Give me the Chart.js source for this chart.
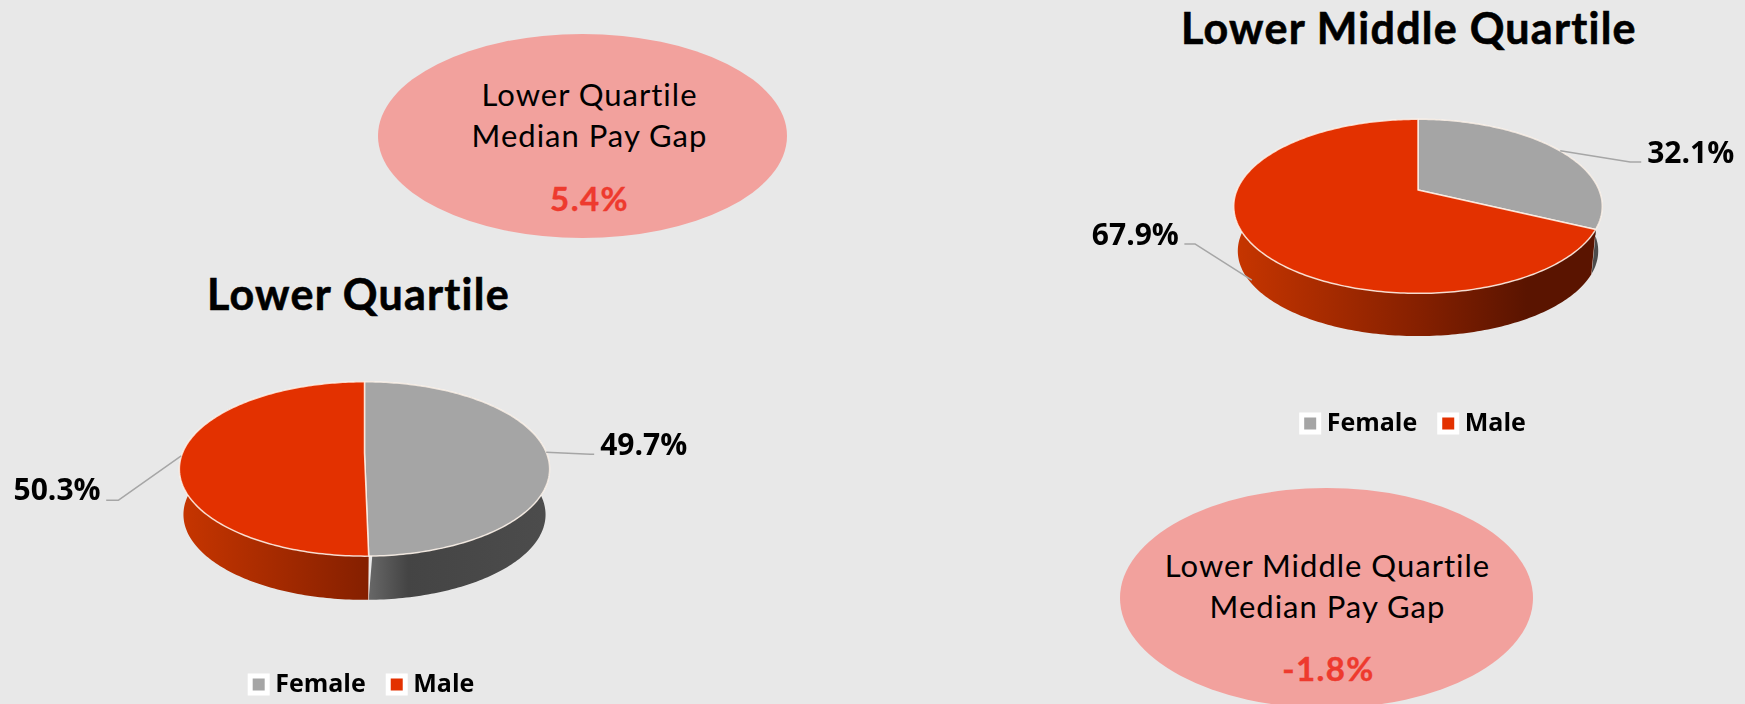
<!DOCTYPE html>
<html>
<head>
<meta charset="utf-8">
<script src="https://cdn.jsdelivr.net/npm/chart.js@4"></script>
<style>
  html, body { margin: 0; padding: 0; background: #e8e8e8; width: 1745px; height: 704px; overflow: hidden; position: relative; }
  canvas { position: absolute; }
  .title { position: absolute; font: 700 43px Lato, sans-serif; letter-spacing: 1.25px; font-variant-ligatures: none; -webkit-text-stroke: 0.6px #000; color: #000; white-space: nowrap; }
  .bubble { position: absolute; background: #f2a19d; border-radius: 50%; }
  .bubble div { position: absolute; left: 0; right: 0; text-align: center; font: 400 31px Lato, sans-serif; letter-spacing: 1px; font-variant-ligatures: none; color: #000; white-space: nowrap; }
  .bubble .gap { font-weight: 700; font-size: 33px; letter-spacing: 1.4px; -webkit-text-stroke: 0.4px #ee3a2e; color: #ee3a2e; }
</style>
</head>
<body>
<div class="title" style="left:207px;top:268px">Lower Quartile</div>
<div class="title" style="left:1181px;top:2px">Lower Middle Quartile</div>

<div class="bubble" style="left:378px;top:34px;width:409px;height:204px">
  <div style="top:41px;left:14px">Lower Quartile</div>
  <div style="top:82px;left:14px">Median Pay Gap</div>
  <div class="gap" style="top:144px;left:14px">5.4%</div>
</div>
<div class="bubble" style="left:1120px;top:488px;width:413px;height:220px">
  <div style="top:58px;left:2px">Lower Middle Quartile</div>
  <div style="top:99px;left:2px">Median Pay Gap</div>
  <div class="gap" style="top:160px;left:4px">-1.8%</div>
</div>

<canvas id="lowerChart" width="729" height="446" style="left:0;top:261px"></canvas>
<canvas id="middleChart" width="658" height="446" style="left:1087px;top:0"></canvas>

<script>
const categories = ["Female", "Male"];
const lowerQuartileValues = [49.7, 50.3];
const lowerMiddleValues = [32.1, 67.9];
const sliceColors = ["#a5a5a5", "#e33100"];
const sideStops = [
  [[0.5, "#6b6b6b"], [0.62, "#444444"], [1, "#4c4c4c"]],
  [[0, "#c63500"], [0.5, "#862000"], [0.8, "#5a1400"], [1, "#5a1400"]],
];

// perspective tilt: the disc comes from the library's arc, this only projects it
function project(arc, angle, tilt, low) {
  const u = Math.cos(angle);
  const v = Math.sin(angle);
  const w = 1 - tilt.q * v;
  const s = low ? tilt.lowScale : 1;
  return {
    x: arc.x + tilt.shiftX + (arc.outerRadius * u * s) / w,
    y: arc.y + tilt.shiftY + (arc.outerRadius * tilt.flat * v * s) / w + (low ? tilt.depth : 0),
  };
}

const tiltPie = {
  id: "tiltPie",
  beforeDatasetsDraw(chart, args, tilt) {
    const ctx = chart.ctx;
    const arcs = chart.getDatasetMeta(0).data;
    const values = chart.data.datasets[0].data;
    const step = Math.PI / 180;

    // side wall first, the top face covers the back part of it
    arcs.forEach((arc, i) => {
      const left = arc.x + tilt.shiftX - arc.outerRadius;
      const grad = ctx.createLinearGradient(left, 0, left + arc.outerRadius * 2, 0);
      sideStops[i].forEach((s) => grad.addColorStop(s[0], s[1]));
      ctx.beginPath();
      for (let a = arc.startAngle; a < arc.endAngle; a += step) {
        const p = project(arc, a, tilt, false);
        ctx.lineTo(p.x, p.y);
      }
      for (let a = arc.endAngle; a > arc.startAngle; a -= step) {
        const p = project(arc, a, tilt, true);
        ctx.lineTo(p.x, p.y);
      }
      ctx.closePath();
      ctx.fillStyle = grad;
      ctx.fill();
      if (Math.abs(Math.cos(arc.endAngle)) < 0.2) {
        const a = project(arc, arc.endAngle, tilt, false);
        const b = project(arc, arc.endAngle, tilt, true);
        ctx.beginPath();
        ctx.moveTo(a.x, a.y);
        ctx.lineTo(b.x, b.y);
        ctx.strokeStyle = "rgba(255,255,255,0.7)";
        ctx.lineWidth = 1;
        ctx.stroke();
      }
    });

    // top face
    arcs.forEach((arc, i) => {
      ctx.beginPath();
      ctx.moveTo(arc.x + tilt.shiftX, arc.y + tilt.shiftY);
      for (let a = arc.startAngle; a < arc.endAngle; a += step) {
        const p = project(arc, a, tilt, false);
        ctx.lineTo(p.x, p.y);
      }
      const end = project(arc, arc.endAngle, tilt, false);
      ctx.lineTo(end.x, end.y);
      ctx.closePath();
      ctx.fillStyle = sliceColors[i];
      ctx.fill();
      ctx.strokeStyle = "rgba(255,245,235,0.85)";
      ctx.lineWidth = 1.5;
      ctx.lineJoin = "round";
      ctx.stroke();
    });

    // leader lines and value labels
    arcs.forEach((arc, i) => {
      const at = project(arc, (arc.startAngle + arc.endAngle) / 2, tilt, false);
      const l = tilt.leaders[i];
      ctx.beginPath();
      ctx.moveTo(at.x + l.from[0], at.y + l.from[1]);
      ctx.lineTo(at.x + l.elbow[0], at.y + l.elbow[1]);
      ctx.lineTo(at.x + l.end[0], at.y + l.end[1]);
      ctx.strokeStyle = "#a6a6a6";
      ctx.lineWidth = 1.5;
      ctx.stroke();
      ctx.font = "700 30px 'Open Sans', sans-serif";
      ctx.fillStyle = "#000";
      ctx.textAlign = l.align;
      ctx.textBaseline = "middle";
      ctx.fillText(values[i].toFixed(1) + "%", at.x + l.text[0], at.y + l.text[1]);
    });
    return false;
  },
};

function pieOptions(tilt) {
  return {
    responsive: false,
    animation: false,
    plugins: {
      tiltPie: tilt,
      tooltip: { enabled: false },
      legend: {
        position: "bottom",
        labels: {
          usePointStyle: true,
          pointStyle: "rect",
          boxWidth: 8,
          boxHeight: 17,
          padding: 27,
          color: "#000",
          font: { family: "'Open Sans', sans-serif", size: 25, weight: "bold" },
          generateLabels: (chart) =>
            Chart.overrides.pie.plugins.legend.labels.generateLabels(chart).map((item) => ({
              ...item,
              strokeStyle: "#ffffff",
              lineWidth: 5,
            })),
        },
      },
    },
  };
}

Chart.register(tiltPie);

new Chart(document.getElementById("lowerChart").getContext("2d"), {
  type: "pie",
  data: {
    labels: categories,
    datasets: [{ data: lowerQuartileValues, backgroundColor: sliceColors, radius: 182 }],
  },
  options: pieOptions({
    q: 0.183, flat: 0.463, lowScale: 0.978, depth: 46, shiftX: 0, shiftY: 0,
    leaders: [
      { from: [0, 0], elbow: [44, 2], end: [48, 2], text: [54, -5.5], align: "left" },
      { from: [-1, 2], elbow: [-64, 46.5], end: [-76, 46.5], text: [-81.6, 38], align: "right" },
    ],
  }),
});

new Chart(document.getElementById("middleChart").getContext("2d"), {
  type: "pie",
  data: {
    labels: categories,
    datasets: [{ data: lowerMiddleValues, backgroundColor: sliceColors, radius: 181 }],
  },
  options: pieOptions({
    q: 0.1875, flat: 0.464, lowScale: 0.978, depth: 45, shiftX: 2, shiftY: -2,
    leaders: [
      { from: [3, 1.5], elbow: [73, 12.7], end: [84, 12.7], text: [90, 5.4], align: "left" },
      { from: [4, 40.3], elbow: [-52.6, 4.3], end: [-63.5, 4.3], text: [-69, -3.2], align: "right" },
    ],
  }),
});
</script>
</body>
</html>
